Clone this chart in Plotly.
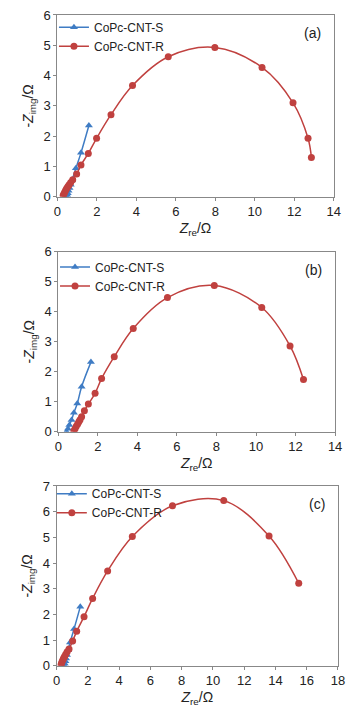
import plotly.graph_objects as go

# Panel (a)
a_s_x = [0.47, 0.50, 0.53, 0.57, 0.62, 0.68, 0.75, 0.94, 1.20, 1.60]
a_s_y = [0.00, 0.06, 0.12, 0.20, 0.29, 0.40, 0.55, 0.94, 1.45, 2.35]
a_r_x = [0.30, 0.34, 0.38, 0.43, 0.48, 0.54, 0.60, 0.68, 0.78, 0.98, 1.20, 1.57, 1.99, 2.72, 3.81, 5.62, 7.98, 10.37, 11.94, 12.70, 12.87]
a_r_y = [0.05, 0.10, 0.16, 0.22, 0.28, 0.34, 0.40, 0.47, 0.56, 0.75, 1.05, 1.43, 1.93, 2.71, 3.67, 4.62, 4.93, 4.27, 3.10, 1.93, 1.30]

# Panel (b)
b_s_x = [0.42, 0.49, 0.56, 0.67, 0.79, 0.96, 1.18, 1.65]
b_s_y = [0.00, 0.10, 0.22, 0.39, 0.63, 0.94, 1.50, 2.32]
b_r_x = [0.79, 0.85, 0.91, 0.98, 1.04, 1.10, 1.18, 1.32, 1.52, 1.86, 2.19, 2.83, 3.79, 5.52, 7.89, 10.29, 11.72, 12.40]
b_r_y = [0.03, 0.10, 0.18, 0.26, 0.33, 0.40, 0.50, 0.70, 0.92, 1.28, 1.77, 2.50, 3.44, 4.47, 4.87, 4.14, 2.86, 1.74]

# Panel (c)
c_s_x = [0.49, 0.52, 0.56, 0.60, 0.66, 0.73, 0.85, 1.11, 1.51]
c_s_y = [0.00, 0.08, 0.17, 0.28, 0.42, 0.60, 0.90, 1.43, 2.30]
c_r_x = [0.28, 0.31, 0.35, 0.40, 0.45, 0.51, 0.58, 0.67, 0.79, 1.02, 1.28, 1.75, 2.30, 3.26, 4.84, 7.41, 10.69, 13.59, 15.49]
c_r_y = [0.04, 0.10, 0.16, 0.23, 0.30, 0.37, 0.45, 0.54, 0.65, 0.96, 1.34, 1.91, 2.62, 3.69, 5.03, 6.23, 6.43, 5.05, 3.21]

names = ["CoPc-CNT-S", "CoPc-CNT-R"]
labels = ["(a)", "(b)", "(c)"]
x_max = [14, 14, 18]
y_max = [6, 6, 7]

BLUE = "#3F7CC4"
RED = "#C0413F"
FONT = "Liberation Sans, Arial, sans-serif"

panels = [
    (a_s_x, a_s_y, a_r_x, a_r_y),
    (b_s_x, b_s_y, b_r_x, b_r_y),
    (c_s_x, c_s_y, c_r_x, c_r_y),
]

# layout geometry (paper fractions)
xdoms = [[0.1614, 0.940], [0.1642, 0.944], [0.1597, 0.952]]
ydoms = [[0.724, 0.979], [0.3945, 0.647], [0.0663, 0.3184]]
leg_pos = [(0.152, 0.982), (0.155, 0.646), (0.146, 0.328)]

fig = go.Figure()
for i, (sx, sy, rx, ry) in enumerate(panels):
    sfx = "" if i == 0 else str(i + 1)
    leg = "legend" + sfx
    fig.add_trace(go.Scatter(
        x=sx, y=sy, name=names[0], mode="lines+markers",
        line=dict(color=BLUE, width=1.5, shape="spline"),
        marker=dict(symbol="triangle-up", size=7, color=BLUE),
        xaxis="x" + sfx, yaxis="y" + sfx, legend=leg))
    fig.add_trace(go.Scatter(
        x=rx, y=ry, name=names[1], mode="lines+markers",
        line=dict(color=RED, width=1.5, shape="spline"),
        marker=dict(symbol="circle", size=7, color=RED),
        xaxis="x" + sfx, yaxis="y" + sfx, legend=leg))

    axcommon = dict(showgrid=False, zeroline=False, showline=True, linecolor="#888888",
                    linewidth=1, mirror=True, ticks="outside", ticklen=3, tickcolor="#888888",
                    automargin=False,
                    tickfont=dict(size=13, color="#222222", family=FONT))
    fig.layout["xaxis" + sfx] = dict(
        domain=xdoms[i], anchor="y" + sfx, range=[0, x_max[i]], dtick=2,
        title=dict(text="<i>Z</i><sub>re</sub>/Ω", font=dict(size=14, color="#222222", family=FONT), standoff=4),
        **axcommon)
    fig.layout["yaxis" + sfx] = dict(
        domain=ydoms[i], anchor="x" + sfx, range=[0, y_max[i]], dtick=1,
        title=dict(text="-<i>Z</i><sub>img</sub>/Ω", font=dict(size=14, color="#222222", family=FONT), standoff=6),
        **axcommon)
    fig.layout[leg] = dict(x=leg_pos[i][0], y=leg_pos[i][1], xanchor="left", yanchor="top",
                           bgcolor="rgba(0,0,0,0)", font=dict(size=12, color="#222222", family=FONT),
                           tracegroupgap=0, itemwidth=30)
    fig.add_annotation(text=labels[i], x=0.96, y=0.9, xref=("x" + sfx + " domain"), yref=("y" + sfx + " domain"),
                       showarrow=False, xanchor="right", yanchor="middle",
                       font=dict(size=14, color="#222222", family=FONT))

fig.update_layout(width=355, height=713, margin=dict(l=0, r=0, t=0, b=0),
                  paper_bgcolor="white", plot_bgcolor="white", showlegend=True)
fig.write_html("out.html", config={"displayModeBar": False},
               post_script="document.body.style.margin='0';document.body.style.overflow='hidden';")
